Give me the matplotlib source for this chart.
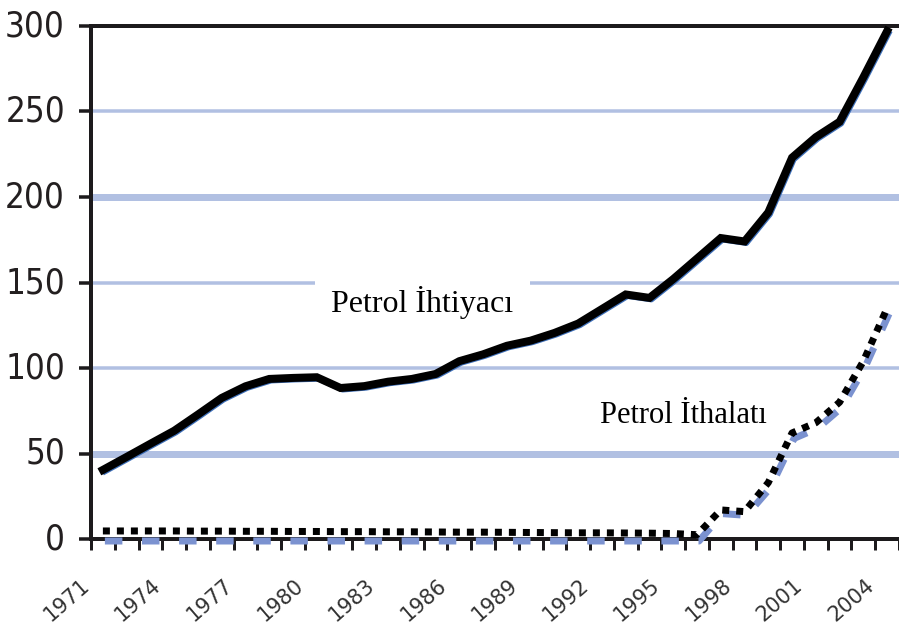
import matplotlib
matplotlib.use('Agg')
import matplotlib.pyplot as plt
from matplotlib import font_manager
from matplotlib.font_manager import FontProperties
from matplotlib.transforms import offset_copy, blended_transform_factory

# ---------------- data ----------------
years = list(range(1971, 2005))
ihtiyac = [40.4, 48.0, 55.7, 63.3, 72.8, 82.5, 89.3, 93.6, 94.2, 94.6,
           88.3, 89.4, 92.0, 93.6, 96.5, 104.0, 108.0, 113.0, 116.0, 120.5,
           126.0, 134.5, 143.0, 141.0, 152.0, 164.0, 176.0, 174.0, 191.0, 223.0,
           235.0, 244.0, 270.0, 297.0]
# hand-drawn black dotted trace of imports
ithalat = [4.7, 4.7, 4.7, 4.7, 4.6, 4.6, 4.5, 4.5, 4.4, 4.4,
           4.3, 4.3, 4.2, 4.2, 4.1, 4.0, 4.0, 3.9, 3.8, 3.7,
           3.6, 3.6, 3.5, 3.4, 3.2, 2.5, 17.0, 16.0, 33.0, 62.0,
           68.0, 80.0, 104.0, 135.0]
# underlying (blue) import series
ithalat_seri = [0, 0, 0, 0, 0, 0, 0, 0, 0, 0,
                0, 0, 0, 0, 0, 0, 0, 0, 0, 0,
                0, 0, 0, 0, 0, 0, 16.0, 15.0, 31.0, 60.0,
                66.0, 78.0, 102.0, 133.0]
yticks = [0, 50, 100, 150, 200, 250, 300]
label_years = years[::3]
label_ihtiyac = "Petrol İhtiyacı"
label_ithalat = "Petrol İthalatı"

# ---------------- fonts ----------------
cands = []
for f in font_manager.fontManager.ttflist:
    fn = f.fname.lower()
    if ('narrow' in fn or 'condensed' in fn) and not any(
            k in fn for k in ('bold', 'oblique', 'italic', 'light', 'thin',
                              'mono', 'serif', 'black', 'medium', 'semi', 'extra')):
        cands.append(f)
if cands:
    cands.sort(key=lambda f: (0 if 'sans' in f.fname.lower() else 1, f.fname))
    narrow_fp = FontProperties(fname=cands[0].fname, size=25)
else:
    narrow_fp = FontProperties(family='DejaVu Sans', size=20)
serif = 'Liberation Serif'

W, H = 899, 630
fig = plt.figure(figsize=(W / 100, H / 100), dpi=100)
ax = fig.add_axes([91 / W, 1 - 539 / H, 1 - 91 / W, (539 - 26) / H])
n = len(years)
x = list(range(n))
ax.set_xlim(-0.5, n - 0.5)
ax.set_ylim(0, 300)

px = 72 / 100  # points per pixel

# gridlines
grid_col = '#b1c0e2'
for v in yticks[1:-1]:
    lw = 7 if v in (50, 200) else 3.5
    ax.axhline(v, color=grid_col, lw=lw * px, zorder=1)

# spines
for s in ('left', 'bottom', 'top'):
    ax.spines[s].set_color('#1c1a1c')
    ax.spines[s].set_linewidth(4 * px)
    ax.spines[s].set_zorder(2)
ax.spines['right'].set_visible(False)

# y ticks (marks only) + labels as texts
ax.set_yticks(yticks)
ax.set_yticklabels([])
ax.tick_params(axis='y', direction='out', length=12 * px, width=3.5 * px,
               color='#1c1a1c')
ylab_tr = offset_copy(ax.get_yaxis_transform(), fig=fig, x=-26, y=3, units='dots')
for v in yticks:
    ax.text(0, v, str(v), transform=ylab_tr, ha='right', va='center_baseline',
            fontproperties=narrow_fp, color='#231f20')

# x ticks at category boundaries
ax.set_xticks([i - 0.5 for i in range(n + 1)])
ax.set_xticklabels([])
ax.tick_params(axis='x', direction='out', length=11 * px, width=3 * px,
               color='#1c1a1c')

trans_lab = offset_copy(blended_transform_factory(ax.transData, ax.transAxes),
                        fig=fig, x=-16, y=-44, units='dots')
for yr in label_years:
    i = years.index(yr)
    ax.text(i, 0, str(yr), transform=trans_lab, rotation=41,
            rotation_mode='anchor', ha='right', va='center',
            fontsize=15, color='#333333', fontfamily='DejaVu Sans')

# blue underlying series
shadow = offset_copy(ax.transData, fig=fig, x=2, y=-2, units='dots')
ax.plot(x, ihtiyac, color='#3e6fb8', lw=5 * px, transform=shadow,
        zorder=3, clip_on=False)
ax.plot(x, ithalat_seri, color='#7b92d0', lw=7 * px, transform=shadow,
        linestyle=(0, (2.5, 2.8)), dash_capstyle='butt', zorder=3, clip_on=False)

# black hand-drawn traces
ax.plot(x, ihtiyac, color='black', lw=8 * px, zorder=4,
        solid_joinstyle='miter', clip_on=False)
ax.plot(x, ithalat, color='black', lw=7 * px, linestyle=(0, (1, 1)),
        dash_capstyle='butt', zorder=4, clip_on=False)

# labels
ax.text(13.45, 132.8, label_ihtiyac, ha='center', va='baseline',
        fontfamily=serif, fontsize=23, color='black', zorder=5,
        bbox=dict(boxstyle='square,pad=0.5', fc='white', ec='none'))
ax.text(24.45, 67.8, label_ithalat, ha='center', va='baseline',
        fontfamily=serif, fontsize=22, color='black', zorder=5)

fig.savefig('out.png', dpi=100)
